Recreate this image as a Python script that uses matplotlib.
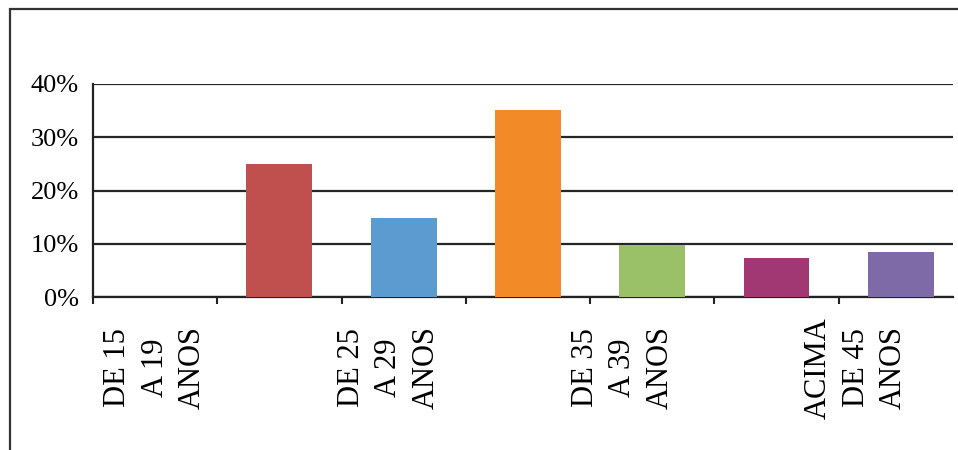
import matplotlib
matplotlib.use("Agg")
import matplotlib.pyplot as plt
from matplotlib.patches import Rectangle

# age groups (only every other label is shown in the original)
labels = ["DE 15\nA 19\nANOS", "", "DE 25\nA 29\nANOS", "", "DE 35\nA 39\nANOS", "", "ACIMA\nDE 45\nANOS"]
values = [0.0, 0.25, 0.148, 0.352, 0.097, 0.074, 0.084]
colors = ["#C0504D", "#C0504D", "#5B9BD0", "#F38A28", "#9BC168", "#A13873", "#7E6AA6"]
yticks = [0, 0.1, 0.2, 0.3, 0.4]

plt.rcParams['font.family'] = ['Liberation Serif', 'DejaVu Serif']

fig = plt.figure(figsize=(9.58, 4.5), dpi=100)
ax = fig.add_axes([93 / 958, 1 - 297 / 450, 860 / 958, 213 / 450])

# outer chart border (cropped on the right and bottom)
fig.patches.append(Rectangle((9.5 / 958, -0.1), 1.2, 1 - 9.5 / 450 + 0.1,
                             transform=fig.transFigure, fill=False,
                             edgecolor='#333333', linewidth=1.6))

x = list(range(len(values)))
ax.bar(x, values, width=0.53, color=colors, zorder=3)

ax.set_ylim(0, 0.4)
ax.set_xlim(-0.5, 6.42)
ax.set_yticks(yticks)
ax.set_yticklabels([f"{int(round(v * 100))}%" for v in yticks], fontsize=19)
ax.yaxis.grid(True, color='#262626', linewidth=1.6, zorder=1)
ax.set_axisbelow(True)

# boundary ticks on x axis, labels on minor ticks
ax.set_xticks([i - 0.5 for i in x])
ax.set_xticklabels([])
shown = [i for i, l in enumerate(labels) if l]
ax.set_xticks([i * 0.94 for i in shown], minor=True)
ax.set_xticklabels([labels[i] for i in shown], minor=True, fontsize=22,
                   rotation=90, va='center', ha='center', multialignment='center',
                   linespacing=1.38)
ax.tick_params(axis='x', which='major', length=5, width=1.5, color='#222222', direction='out')
ax.tick_params(axis='x', which='minor', length=0, pad=51)
ax.tick_params(axis='y', length=0, pad=10)

for side in ['top', 'right']:
    ax.spines[side].set_visible(False)
for side in ['left', 'bottom']:
    ax.spines[side].set_color('#222222')
    ax.spines[side].set_linewidth(1.6)

fig.savefig("out.png", dpi=100)
